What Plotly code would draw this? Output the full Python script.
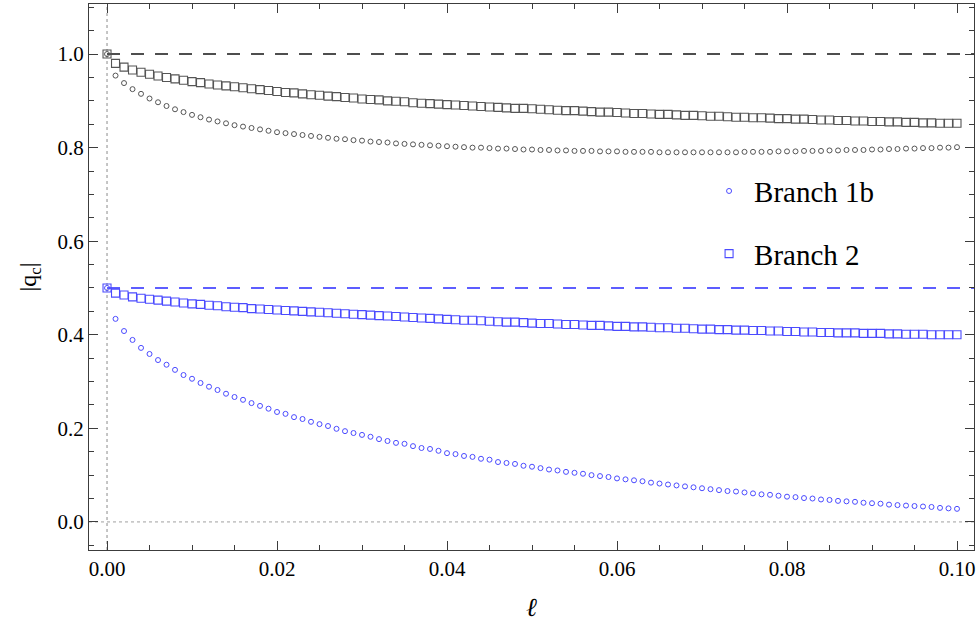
import plotly.graph_objects as go

# coupling parameter ell, sampled every 0.001 from 0 to 0.1
ell = [round(0.001 * k, 3) for k in range(101)]

# |q_c| for the upper pair of branches (black)
branch1a_upper = [
    1.000, 0.954, 0.938, 0.925, 0.915, 0.905, 0.897, 0.889, 0.882, 0.876,
    0.870, 0.865, 0.860, 0.856, 0.852, 0.848, 0.845, 0.842, 0.839, 0.836,
    0.833, 0.831, 0.829, 0.827, 0.825, 0.823, 0.821, 0.819, 0.818, 0.816,
    0.815, 0.813, 0.812, 0.811, 0.809, 0.808, 0.807, 0.806, 0.805, 0.804,
    0.803, 0.802, 0.801, 0.800, 0.800, 0.799, 0.798, 0.798, 0.797, 0.796,
    0.796, 0.795, 0.795, 0.794, 0.794, 0.793, 0.793, 0.793, 0.792, 0.792,
    0.792, 0.791, 0.791, 0.791, 0.791, 0.790, 0.790, 0.790, 0.790, 0.790,
    0.790, 0.790, 0.790, 0.790, 0.790, 0.791, 0.791, 0.791, 0.791, 0.792,
    0.792, 0.792, 0.793, 0.793, 0.793, 0.794, 0.794, 0.795, 0.795, 0.795,
    0.796, 0.796, 0.797, 0.797, 0.798, 0.798, 0.799, 0.799, 0.800, 0.800,
    0.801,
]
branch2_upper = [
    1.000, 0.980, 0.972, 0.966, 0.961, 0.957, 0.953, 0.950, 0.947, 0.944,
    0.941, 0.939, 0.936, 0.934, 0.932, 0.930, 0.928, 0.926, 0.924, 0.922,
    0.920, 0.918, 0.917, 0.915, 0.913, 0.912, 0.910, 0.909, 0.907, 0.906,
    0.904, 0.903, 0.902, 0.900, 0.899, 0.898, 0.896, 0.895, 0.894, 0.893,
    0.892, 0.891, 0.890, 0.889, 0.888, 0.887, 0.886, 0.885, 0.884, 0.884,
    0.883, 0.882, 0.881, 0.880, 0.879, 0.879, 0.878, 0.877, 0.876, 0.876,
    0.875, 0.874, 0.873, 0.873, 0.872, 0.871, 0.871, 0.870, 0.869, 0.869,
    0.868, 0.867, 0.867, 0.866, 0.865, 0.865, 0.864, 0.864, 0.863, 0.862,
    0.862, 0.861, 0.861, 0.860, 0.859, 0.859, 0.858, 0.858, 0.857, 0.857,
    0.856, 0.856, 0.855, 0.855, 0.854, 0.854, 0.853, 0.853, 0.852, 0.852,
    0.852,
]

# |q_c| for the lower pair of branches (blue)
branch1b = [
    0.500, 0.434, 0.408, 0.389, 0.372, 0.359, 0.346, 0.336, 0.325, 0.314,
    0.306, 0.297, 0.289, 0.282, 0.274, 0.267, 0.261, 0.254, 0.248, 0.242,
    0.235, 0.231, 0.224, 0.220, 0.214, 0.209, 0.205, 0.199, 0.194, 0.190,
    0.186, 0.182, 0.177, 0.173, 0.169, 0.167, 0.162, 0.158, 0.156, 0.152,
    0.147, 0.145, 0.141, 0.139, 0.135, 0.133, 0.128, 0.126, 0.124, 0.120,
    0.118, 0.115, 0.112, 0.110, 0.107, 0.105, 0.103, 0.100, 0.098, 0.096,
    0.093, 0.091, 0.089, 0.087, 0.084, 0.082, 0.080, 0.078, 0.076, 0.074,
    0.072, 0.070, 0.068, 0.066, 0.065, 0.063, 0.061, 0.059, 0.058, 0.056,
    0.054, 0.053, 0.051, 0.050, 0.048, 0.047, 0.045, 0.044, 0.043, 0.041,
    0.040, 0.039, 0.037, 0.036, 0.035, 0.034, 0.033, 0.032, 0.030, 0.029,
    0.028,
]
branch2 = [
    0.500, 0.489, 0.485, 0.481, 0.478, 0.476, 0.474, 0.472, 0.470, 0.468,
    0.466, 0.465, 0.463, 0.462, 0.460, 0.459, 0.458, 0.456, 0.455, 0.454,
    0.453, 0.452, 0.451, 0.450, 0.449, 0.448, 0.447, 0.446, 0.445, 0.444,
    0.443, 0.442, 0.441, 0.440, 0.439, 0.438, 0.437, 0.436, 0.435, 0.434,
    0.433, 0.432, 0.431, 0.431, 0.430, 0.429, 0.428, 0.427, 0.427, 0.426,
    0.425, 0.424, 0.424, 0.423, 0.422, 0.422, 0.421, 0.420, 0.420, 0.419,
    0.418, 0.418, 0.417, 0.417, 0.416, 0.415, 0.415, 0.414, 0.414, 0.413,
    0.412, 0.412, 0.411, 0.411, 0.410, 0.410, 0.409, 0.409, 0.408, 0.408,
    0.407, 0.407, 0.406, 0.406, 0.405, 0.405, 0.404, 0.404, 0.404, 0.403,
    0.403, 0.403, 0.402, 0.402, 0.401, 0.401, 0.401, 0.400, 0.400, 0.400,
    0.400,
]

# asymptotic reference levels
upper_level = 1.0
lower_level = 0.5

x_ticks = [0.00, 0.02, 0.04, 0.06, 0.08, 0.10]
y_ticks = [0.0, 0.2, 0.4, 0.6, 0.8, 1.0]
x_range = [-0.00212, 0.1020]
y_range = [-0.06, 1.107]

GRAY = "rgb(85,85,85)"
BLUE = "rgb(75,75,255)"
FRAME = "rgb(60,60,60)"
SERIF = "Liberation Serif, DejaVu Serif, serif"

fig = go.Figure()

fig.add_trace(go.Scatter(
    x=ell, y=branch2_upper, mode="markers", showlegend=False,
    marker=dict(symbol="square-open", size=8, color=GRAY, line=dict(width=1.1)),
))
fig.add_trace(go.Scatter(
    x=ell, y=branch1a_upper, mode="markers", showlegend=False,
    marker=dict(symbol="circle-open", size=5, color=GRAY, line=dict(width=1.0)),
))
fig.add_trace(go.Scatter(
    x=ell, y=branch1b, mode="markers", name="Branch 1b", legendgroup="b1b",
    marker=dict(symbol="circle-open", size=5, color=BLUE, line=dict(width=1.0)),
))
fig.add_trace(go.Scatter(
    x=ell, y=branch2, mode="markers", name="Branch 2", legendgroup="b2",
    marker=dict(symbol="square-open", size=8, color=BLUE, line=dict(width=1.1)),
))

shapes = [
    # dotted axes through the origin
    dict(type="line", xref="x", yref="paper", x0=0, x1=0, y0=0, y1=1,
         line=dict(color="rgb(140,140,140)", width=1, dash="dot"), layer="below"),
    dict(type="line", xref="paper", yref="y", x0=0, x1=1, y0=0, y1=0,
         line=dict(color="rgb(160,160,160)", width=1, dash="dot"), layer="below"),
    # dashed asymptotes
    dict(type="line", xref="x", yref="y", x0=0, x1=x_range[1], y0=upper_level, y1=upper_level,
         line=dict(color="rgb(20,20,20)", width=1.4, dash="13px,11px"), layer="below"),
    dict(type="line", xref="x", yref="y", x0=0, x1=x_range[1], y0=lower_level, y1=lower_level,
         line=dict(color="rgb(40,40,255)", width=1.4, dash="13px,11px"), layer="below"),
]

axis_common = dict(
    showline=True, linecolor=FRAME, linewidth=1.3, mirror="ticks",
    ticks="inside", ticklen=9, tickwidth=1.1, tickcolor=FRAME,
    showgrid=False, zeroline=False,
    tickfont=dict(family=SERIF, size=21, color="black"),
)

fig.update_layout(
    width=980, height=622,
    margin=dict(l=89, r=6, t=4, b=72),
    paper_bgcolor="white", plot_bgcolor="white",
    shapes=shapes,
    showlegend=True,
    legend=dict(
        x=0.695, y=0.704, xanchor="left", yanchor="top",
        font=dict(family=SERIF, size=29, color="black"),
        bgcolor="rgba(0,0,0,0)", tracegroupgap=22, itemwidth=40,
    ),
    xaxis=dict(
        range=x_range, tickvals=x_ticks, tickformat=".2f",
        minor=dict(dtick=0.005, tick0=0, ticks="inside", ticklen=5, tickwidth=1, tickcolor=FRAME),
        title=dict(text="<i>ℓ</i>", font=dict(family=SERIF, size=26, color="black"), standoff=18),
        **axis_common,
    ),
    yaxis=dict(
        range=y_range, tickvals=y_ticks, tickformat=".1f",
        minor=dict(dtick=0.05, tick0=0, ticks="inside", ticklen=5, tickwidth=1, tickcolor=FRAME),
        title=dict(text="|q<sub>c</sub>|", font=dict(family=SERIF, size=24, color="black"), standoff=14),
        **axis_common,
    ),
)

fig.write_html("out.html")
